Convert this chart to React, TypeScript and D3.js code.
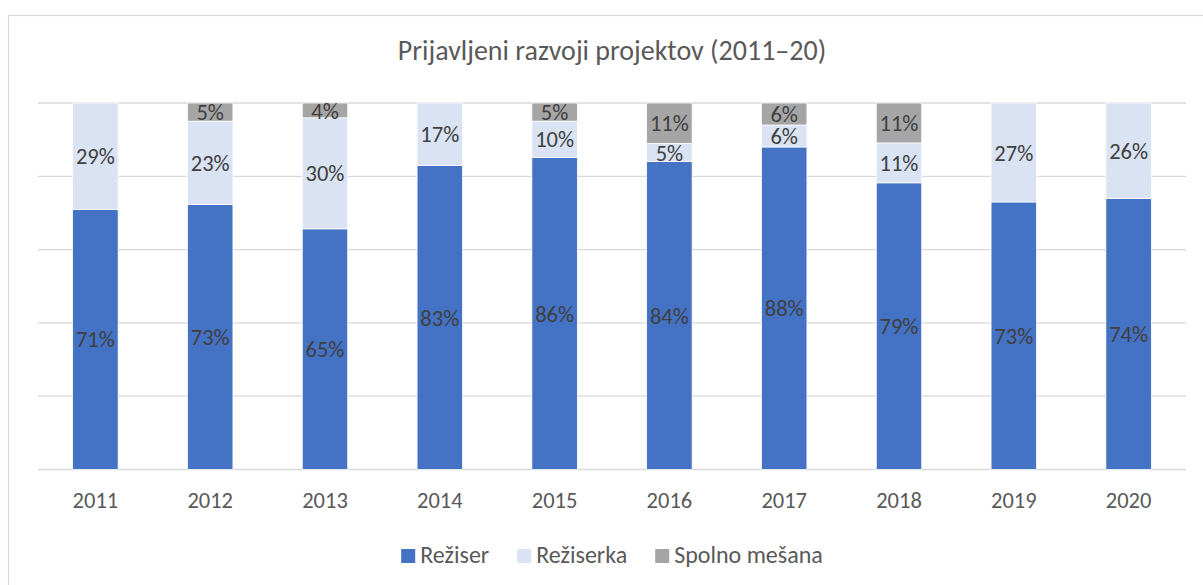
import React, { useEffect, useRef } from "react";
import * as d3 from "d3";

const years = ["2011", "2012", "2013", "2014", "2015", "2016", "2017", "2018", "2019", "2020"];
const reziser = [71, 73, 65, 83, 86, 84, 88, 79, 73, 74];
const reziserka = [29, 23, 30, 17, 10, 5, 6, 11, 27, 26];
const spolnoMesana = [0, 5, 4, 0, 5, 11, 6, 11, 0, 0];
const seriesNames = ["Režiser", "Režiserka", "Spolno mešana"];
const seriesColors = ["#4472C4", "#DAE3F3", "#A5A5A5"];
const yTicks = [0, 0.2, 0.4, 0.6, 0.8, 1];
const title = "Prijavljeni razvoji projektov (2011–20)";

const FONT = "Carlito, Lato, 'Open Sans', sans-serif";

export default function App() {
  const ref = useRef<SVGSVGElement>(null);

  useEffect(() => {
    const svg = d3.select(ref.current);
    svg.selectAll("*").remove();
    const W = 1203, H = 585;
    const left = 38, right = 1186, top = 103, bottom = 469.5;

    // chart border
    svg.append("rect").attr("x", 8.5).attr("y", 15.5).attr("width", W + 10).attr("height", H + 10)
      .attr("fill", "#fff").attr("stroke", "#d9d9d9").attr("stroke-width", 1.2);

    const table = years.map((y, i) => ({ year: y, s0: reziser[i], s1: reziserka[i], s2: spolnoMesana[i] }));
    const keys = ["s0", "s1", "s2"];
    const stacked = d3.stack<any>().keys(keys).offset(d3.stackOffsetExpand)(table);
    const rawSeries = [reziser, reziserka, spolnoMesana];

    const x = d3.scaleBand().domain(years).range([left, right]).padding(0);
    const y = d3.scaleLinear().domain([0, 1]).range([bottom, top]);
    const barW = x.step() * 0.396;

    // gridlines
    svg.append("g").selectAll("line").data(yTicks).join("line")
      .attr("x1", left).attr("x2", right)
      .attr("y1", d => y(d)).attr("y2", d => y(d))
      .attr("stroke", "#d9d9d9").attr("stroke-width", 1.3);

    // bars
    stacked.forEach((layer, li) => {
      const g = svg.append("g");
      layer.forEach((d, i) => {
        const raw = rawSeries[li][i];
        if (raw <= 0) return;
        const cx = (x(years[i]) as number) + x.step() / 2;
        const y0 = y(d[0]), y1 = y(d[1]);
        g.append("rect").attr("x", cx - barW / 2).attr("y", y1).attr("width", barW).attr("height", y0 - y1)
          .attr("fill", seriesColors[li]).attr("stroke", "#fff").attr("stroke-width", 0.75);
      });
    });
    // labels
    stacked.forEach((layer, li) => {
      layer.forEach((d, i) => {
        const raw = rawSeries[li][i];
        if (raw <= 0) return;
        const cx = (x(years[i]) as number) + x.step() / 2;
        const cy = (y(d[0]) + y(d[1])) / 2;
        svg.append("text").attr("x", cx).attr("y", cy).attr("dy", "0.36em")
          .attr("text-anchor", "middle").attr("font-family", FONT).attr("font-size", 22.5)
          .attr("fill", "#404040").text(raw + "%");
      });
    });

    // x axis labels
    svg.append("g").selectAll("text").data(years).join("text")
      .attr("x", d => (x(d) as number) + x.step() / 2).attr("y", 508)
      .attr("text-anchor", "middle").attr("font-family", FONT).attr("font-size", 22.5)
      .attr("fill", "#595959").text(d => d);

    // title
    svg.append("text").attr("x", (left + right) / 2).attr("y", 60).attr("text-anchor", "middle")
      .attr("font-family", FONT).attr("font-size", 28).attr("fill", "#595959").text(title);

    // legend
    const lg = svg.append("g");
    let cursor = 0;
    const gap = 28;
    seriesNames.forEach((n, i) => {
      const it = lg.append("g").attr("transform", `translate(${cursor},0)`);
      it.append("rect").attr("x", 0).attr("y", -14).attr("width", 14).attr("height", 14).attr("fill", seriesColors[i]);
      const t = it.append("text").attr("x", 19).attr("y", 0).attr("font-family", FONT).attr("font-size", 24)
        .attr("fill", "#595959").text(n);
      const w = (t.node() as SVGTextElement).getComputedTextLength();
      cursor += 19 + w + gap;
    });
    const total = cursor - gap;
    lg.attr("transform", `translate(${(left + right) / 2 - total / 2},563)`);
  }, []);

  return (
    <svg ref={ref} width={1203} height={585}
      style={{ position: "absolute", left: 0, top: 0, background: "#fff" }} />
  );
}
